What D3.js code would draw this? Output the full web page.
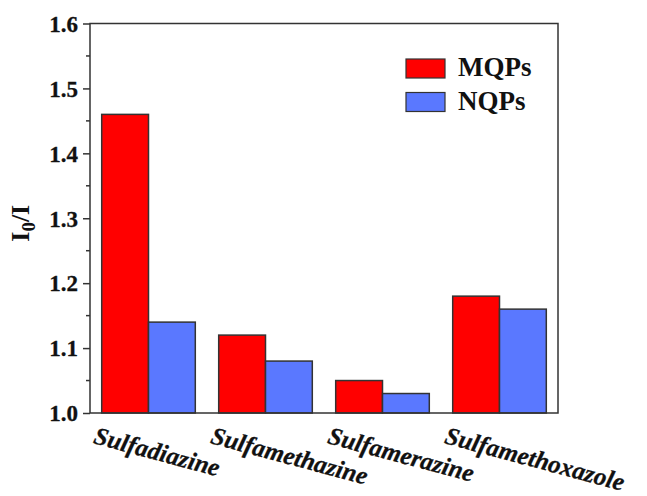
<!DOCTYPE html>
<html>
<head>
<meta charset="utf-8">
<script src="https://cdn.jsdelivr.net/npm/d3@7"></script>
<style>
  body { margin: 0; background: #fff; }
  svg text { font-family: "Times New Roman", "Liberation Serif", Times, "DejaVu Serif", serif !important; font-weight: bold; }
</style>
</head>
<body>
<div id="chart"></div>
<script>
// Chart data.
const categories = ["Sulfadiazine", "Sulfamethazine", "Sulfamerazine", "Sulfamethoxazole"];
const seriesNames = ["MQPs", "NQPs"];
const mqpValues = [1.46, 1.12, 1.05, 1.18];
const nqpValues = [1.14, 1.08, 1.03, 1.16];
const yTicks = [1.0, 1.1, 1.2, 1.3, 1.4, 1.5, 1.6];
const yMinorTicks = [1.05, 1.15, 1.25, 1.35, 1.45, 1.55];

const Colors = { MQPs: "#ff0000", NQPs: "#5a78ff" };
const Stroke = "#333";

const Width = 647;
const Height = 496;
const Plot = { left: 90, right: 558, top: 23.5, bottom: 413 };


const createSvg = () => {
    return d3.select("#chart")
        .append("svg")
            .attr("width", Width)
            .attr("height", Height);
}


const getScales = () => {
    const x = d3.scaleBand()
        .domain(categories)
        .range([Plot.left, Plot.right])
        .paddingInner(0.2)
        .paddingOuter(0.1);
    const xSeries = d3.scaleBand()
        .domain(seriesNames)
        .range([0, x.bandwidth()]);
    const y = d3.scaleLinear()
        .domain([1.0, 1.6])
        .range([Plot.bottom, Plot.top]);
    return { x, xSeries, y };
}


const printBars = (svg, scales) => {
    const rows = categories.map((c, i) => ({
        category: c,
        values: [
            { name: "MQPs", value: mqpValues[i] },
            { name: "NQPs", value: nqpValues[i] },
        ],
    }));
    svg.append("g")
        .selectAll("g")
        .data(rows)
        .join("g")
            .attr("transform", d => `translate(${scales.x(d.category)},0)`)
        .selectAll("rect")
        .data(d => d.values)
        .join("rect")
            .attr("x", d => scales.xSeries(d.name))
            .attr("y", d => scales.y(d.value))
            .attr("width", scales.xSeries.bandwidth())
            .attr("height", d => scales.y(1.0) - scales.y(d.value))
            .attr("fill", d => Colors[d.name])
            .attr("stroke", Stroke)
            .attr("stroke-width", 1.5);
}


const printAxes = (svg, scales) => {
    // Frame.
    svg.append("rect")
        .attr("x", Plot.left)
        .attr("y", Plot.top)
        .attr("width", Plot.right - Plot.left)
        .attr("height", Plot.bottom - Plot.top)
        .attr("fill", "none")
        .attr("stroke", Stroke)
        .attr("stroke-width", 1.5);

    // Left axis with major ticks.
    const yAxis = svg.append("g")
        .attr("transform", `translate(${Plot.left},0)`)
        .call(d3.axisLeft(scales.y)
            .tickValues(yTicks)
            .tickFormat(d3.format(".1f"))
            .tickSize(7)
            .tickPadding(5));
    yAxis.attr("font-family", null).attr("font-size", null);
    yAxis.select(".domain").remove();
    yAxis.selectAll(".tick line")
        .attr("stroke", Stroke)
        .attr("stroke-width", 1.5);
    yAxis.selectAll(".tick text")
        .attr("fill", "#111")
        .style("font-size", "23px")
        .attr("stroke", "#111")
        .attr("stroke-width", 0.3)
        .attr("dy", "0.34em");

    // Minor ticks.
    svg.append("g")
        .selectAll("line")
        .data(yMinorTicks)
        .join("line")
            .attr("x1", Plot.left - 4)
            .attr("x2", Plot.left)
            .attr("y1", d => scales.y(d))
            .attr("y2", d => scales.y(d))
            .attr("stroke", Stroke)
            .attr("stroke-width", 1.5);

    // Rotated category labels.
    svg.append("g")
        .selectAll("text")
        .data(categories)
        .join("text")
            .attr("transform", d =>
                `translate(${scales.x(d) + scales.x.bandwidth() / 2 - 56},443) rotate(15)`)
            .attr("text-anchor", "start")
            .style("font-style", "italic")
            .style("font-size", "25px")
            .attr("fill", "#111")
            .attr("stroke", "#111")
            .attr("stroke-width", 0.3)
            .text(d => d);

    // Y axis title.
    const title = svg.append("text")
        .attr("transform", `translate(29,${(Plot.top + Plot.bottom) / 2 + 5}) rotate(-90)`)
        .attr("text-anchor", "middle")
        .style("font-size", "26px")
        .attr("fill", "#111");
    title.append("tspan").text("I");
    title.append("tspan")
        .attr("dy", 6)
        .style("font-size", "19px")
        .text("0");
    title.append("tspan")
        .attr("dy", -6)
        .text("/I");
}


const printLegend = (svg) => {
    const legend = svg.append("g")
        .selectAll("g")
        .data(seriesNames)
        .join("g")
            .attr("transform", (d, i) => `translate(406,${59 + i * 33.5})`);
    legend.append("rect")
        .attr("width", 39)
        .attr("height", 19)
        .attr("fill", d => Colors[d])
        .attr("stroke", Stroke)
        .attr("stroke-width", 1.2);
    legend.append("text")
        .attr("x", 52)
        .attr("y", 17)
        .style("font-size", "27px")
        .attr("fill", "#111")
        .text(d => d);
}


const printChart = () => {
    const svg = createSvg();
    const scales = getScales();
    printBars(svg, scales);
    printAxes(svg, scales);
    printLegend(svg);
}


printChart();
</script>
</body>
</html>
